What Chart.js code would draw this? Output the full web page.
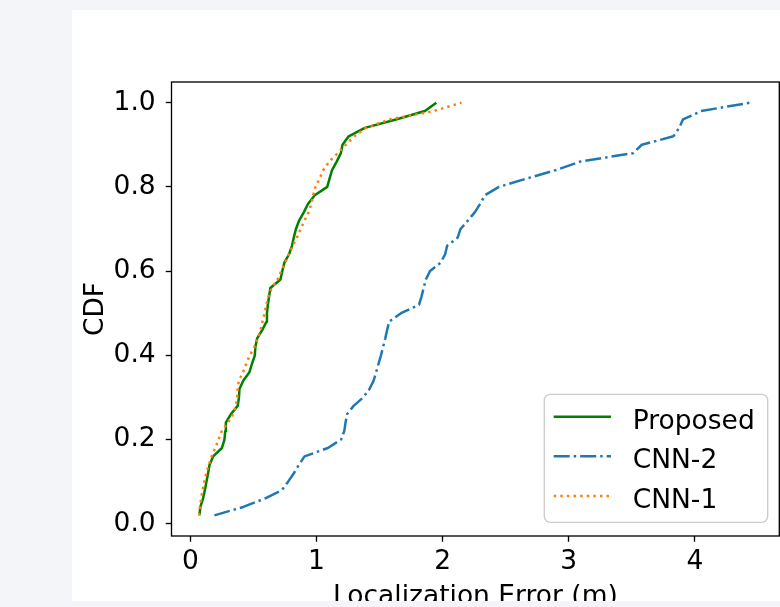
<!DOCTYPE html>
<html>
<head>
<meta charset="utf-8">
<script src="https://cdn.jsdelivr.net/npm/chart.js@4.4.1/dist/chart.umd.min.js"></script>
<style>
  html, body { margin: 0; padding: 0; background: #f4f5f9; }
  body { width: 780px; height: 607px; overflow: hidden; position: relative; }
  #panel { position: absolute; left: 72px; top: 10px; width: 708px; height: 591px; background: #fff; overflow: hidden; }
  #cdf { position: absolute; left: 0; top: 0; }
</style>
</head>
<body>
<div id="panel"><canvas id="cdf" width="710" height="603"></canvas></div>
<script>
// CDF levels (50 samples per method)
const cdfLevels = [
  0.02, 0.04, 0.06, 0.08, 0.10, 0.12, 0.14, 0.16, 0.18, 0.20,
  0.22, 0.24, 0.26, 0.28, 0.30, 0.32, 0.34, 0.36, 0.38, 0.40,
  0.42, 0.44, 0.46, 0.48, 0.50, 0.52, 0.54, 0.56, 0.58, 0.60,
  0.62, 0.64, 0.66, 0.68, 0.70, 0.72, 0.74, 0.76, 0.78, 0.80,
  0.82, 0.84, 0.86, 0.88, 0.90, 0.92, 0.94, 0.96, 0.98, 1.00
];

// sorted localization errors (m)
const proposedErr = [
  0.071, 0.079, 0.100, 0.115, 0.127, 0.140, 0.152, 0.180, 0.250, 0.270,
  0.276, 0.281, 0.320, 0.375, 0.385, 0.389, 0.420, 0.468, 0.488, 0.511,
  0.515, 0.529, 0.569, 0.604, 0.607, 0.614, 0.624, 0.634, 0.714, 0.729,
  0.745, 0.782, 0.805, 0.820, 0.837, 0.862, 0.900, 0.933, 0.986, 1.085,
  1.104, 1.123, 1.160, 1.193, 1.206, 1.255, 1.383, 1.630, 1.860, 1.950
];
const cnn2Err = [
  0.190, 0.420, 0.590, 0.725, 0.775, 0.820, 0.860, 0.905, 1.090, 1.195,
  1.220, 1.230, 1.242, 1.294, 1.370, 1.420, 1.453, 1.473, 1.492, 1.511,
  1.528, 1.545, 1.560, 1.575, 1.670, 1.813, 1.833, 1.850, 1.867, 1.900,
  1.984, 2.020, 2.036, 2.120, 2.142, 2.200, 2.256, 2.298, 2.335, 2.447,
  2.670, 2.900, 3.090, 3.510, 3.580, 3.830, 3.876, 3.906, 4.050, 4.440
];
const cnn1Err = [
  0.068, 0.076, 0.085, 0.097, 0.110, 0.126, 0.146, 0.168, 0.197, 0.223,
  0.248, 0.297, 0.337, 0.360, 0.371, 0.375, 0.384, 0.418, 0.443, 0.470,
  0.508, 0.534, 0.556, 0.572, 0.588, 0.601, 0.619, 0.645, 0.691, 0.719,
  0.751, 0.781, 0.812, 0.845, 0.874, 0.905, 0.938, 0.959, 0.973, 0.992,
  1.025, 1.054, 1.100, 1.168, 1.233, 1.300, 1.390, 1.580, 1.930, 2.150
];

const xTicks = [0, 1, 2, 3, 4];
const yTicks = [0.0, 0.2, 0.4, 0.6, 0.8, 1.0];
const legendOrder = ['Proposed', 'CNN-2', 'CNN-1'];

const FS = 26.5;
Chart.defaults.font.family = "'DejaVu Sans', sans-serif";
Chart.defaults.font.size = FS;
Chart.defaults.color = '#000';

const toPoints = (errs) => errs.map((e, i) => ({ x: e, y: cdfLevels[i] }));

// matplotlib-like box around the axes
const framePlugin = {
  id: 'frame',
  afterDatasetsDraw(chart) {
    const { ctx, chartArea: a } = chart;
    ctx.save();
    ctx.strokeStyle = '#000';
    ctx.lineWidth = 1.33;
    ctx.strokeRect(a.left, a.top, a.right - a.left, a.bottom - a.top);
    ctx.restore();
  }
};

const roundRect = (ctx, x, y, w, h, r) => {
  ctx.beginPath();
  ctx.moveTo(x + r, y);
  ctx.lineTo(x + w - r, y);
  ctx.arcTo(x + w, y, x + w, y + r, r);
  ctx.lineTo(x + w, y + h - r);
  ctx.arcTo(x + w, y + h, x + w - r, y + h, r);
  ctx.lineTo(x + r, y + h);
  ctx.arcTo(x, y + h, x, y + h - r, r);
  ctx.lineTo(x, y + r);
  ctx.arcTo(x, y, x + r, y, r);
  ctx.closePath();
};

// legend in the lower right corner, drawn from the datasets' own styles
const legendPlugin = {
  id: 'cdfLegend',
  afterDraw(chart, args, o) {
    const { ctx, chartArea: a } = chart;
    const items = legendOrder.map(n => chart.data.datasets.find(d => d.label === n));
    ctx.save();
    ctx.font = FS + "px 'DejaVu Sans', sans-serif";
    const textW = Math.max(...items.map(d => ctx.measureText(d.label).width));
    const w = o.padLeft + o.handleLen + o.handleGap + textW + o.padRight;
    const h = o.padTop + (items.length - 1) * o.rowStep + o.padBottom;
    const x0 = a.right - o.axesPadX - w;
    const y0 = a.bottom - o.axesPadY - h;

    roundRect(ctx, x0, y0, w, h, o.radius);
    ctx.fillStyle = 'rgba(255,255,255,0.8)';
    ctx.fill();
    ctx.strokeStyle = '#cccccc';
    ctx.lineWidth = 1.33;
    ctx.stroke();

    items.forEach((d, i) => {
      const cy = y0 + o.padTop + i * o.rowStep;
      ctx.beginPath();
      ctx.setLineDash(d.borderDash || []);
      ctx.strokeStyle = d.borderColor;
      ctx.lineWidth = d.borderWidth;
      ctx.lineCap = 'butt';
      ctx.moveTo(x0 + o.padLeft, cy);
      ctx.lineTo(x0 + o.padLeft + o.handleLen, cy);
      ctx.stroke();
      ctx.setLineDash([]);
      ctx.fillStyle = '#000';
      ctx.textBaseline = 'middle';
      ctx.textAlign = 'left';
      ctx.fillText(d.label, x0 + o.padLeft + o.handleLen + o.handleGap, cy + o.textShift);
    });
    ctx.restore();
  }
};

const tickGrid = {
  drawOnChartArea: false,
  drawTicks: true,
  tickLength: 5.8,
  tickWidth: 1.33,
  tickColor: '#000'
};

new Chart(document.getElementById('cdf'), {
  type: 'line',
  data: {
    datasets: [
      {
        label: 'CNN-1',
        data: toPoints(cnn1Err),
        borderColor: '#ff7f0e',
        borderWidth: 2.5,
        borderDash: [2.5, 4.1],
        order: 1
      },
      {
        label: 'CNN-2',
        data: toPoints(cnn2Err),
        borderColor: '#1f77b4',
        borderWidth: 2.5,
        borderDash: [16, 4, 2.5, 4],
        order: 2
      },
      {
        label: 'Proposed',
        data: toPoints(proposedErr),
        borderColor: '#008000',
        borderWidth: 2.5,
        order: 3
      }
    ]
  },
  options: {
    responsive: false,
    animation: false,
    devicePixelRatio: 1,
    elements: {
      point: { radius: 0, hoverRadius: 0 },
      line: { tension: 0, fill: false, borderJoinStyle: 'round', borderCapStyle: 'butt' }
    },
    layout: { padding: { top: 72, right: 2.7, left: 0, bottom: 0 } },
    plugins: {
      legend: { display: false },
      tooltip: { enabled: false },
      cdfLegend: {
        padLeft: 9.4, padRight: 13, padTop: 22.4, padBottom: 26.3, rowStep: 39.65,
        handleLen: 57.3, handleGap: 21.7, axesPadX: 11.6, axesPadY: 13.7, radius: 6, textShift: 5.1
      }
    },
    scales: {
      x: {
        type: 'linear',
        min: -0.15,
        max: 4.67,
        afterBuildTicks: (ax) => { ax.ticks = xTicks.map(v => ({ value: v })); },
        afterFit: (ax) => { ax.height = 77; },
        ticks: { padding: 4.1, maxRotation: 0, autoSkip: false, callback: (v) => String(v) },
        grid: tickGrid,
        border: { display: false },
        title: { display: true, text: 'Localization Error (m)', padding: 0 }
      },
      y: {
        type: 'linear',
        min: -0.029,
        max: 1.049,
        afterBuildTicks: (ax) => { ax.ticks = yTicks.map(v => ({ value: v })); },
        afterFit: (ax) => { ax.width = 99.5; },
        ticks: { padding: 10, autoSkip: false, callback: (v) => v.toFixed(1) },
        grid: tickGrid,
        border: { display: false },
        title: { display: true, text: 'CDF', padding: { top: 8.2, bottom: 0 } }
      }
    }
  },
  plugins: [framePlugin, legendPlugin]
});
</script>
</body>
</html>
